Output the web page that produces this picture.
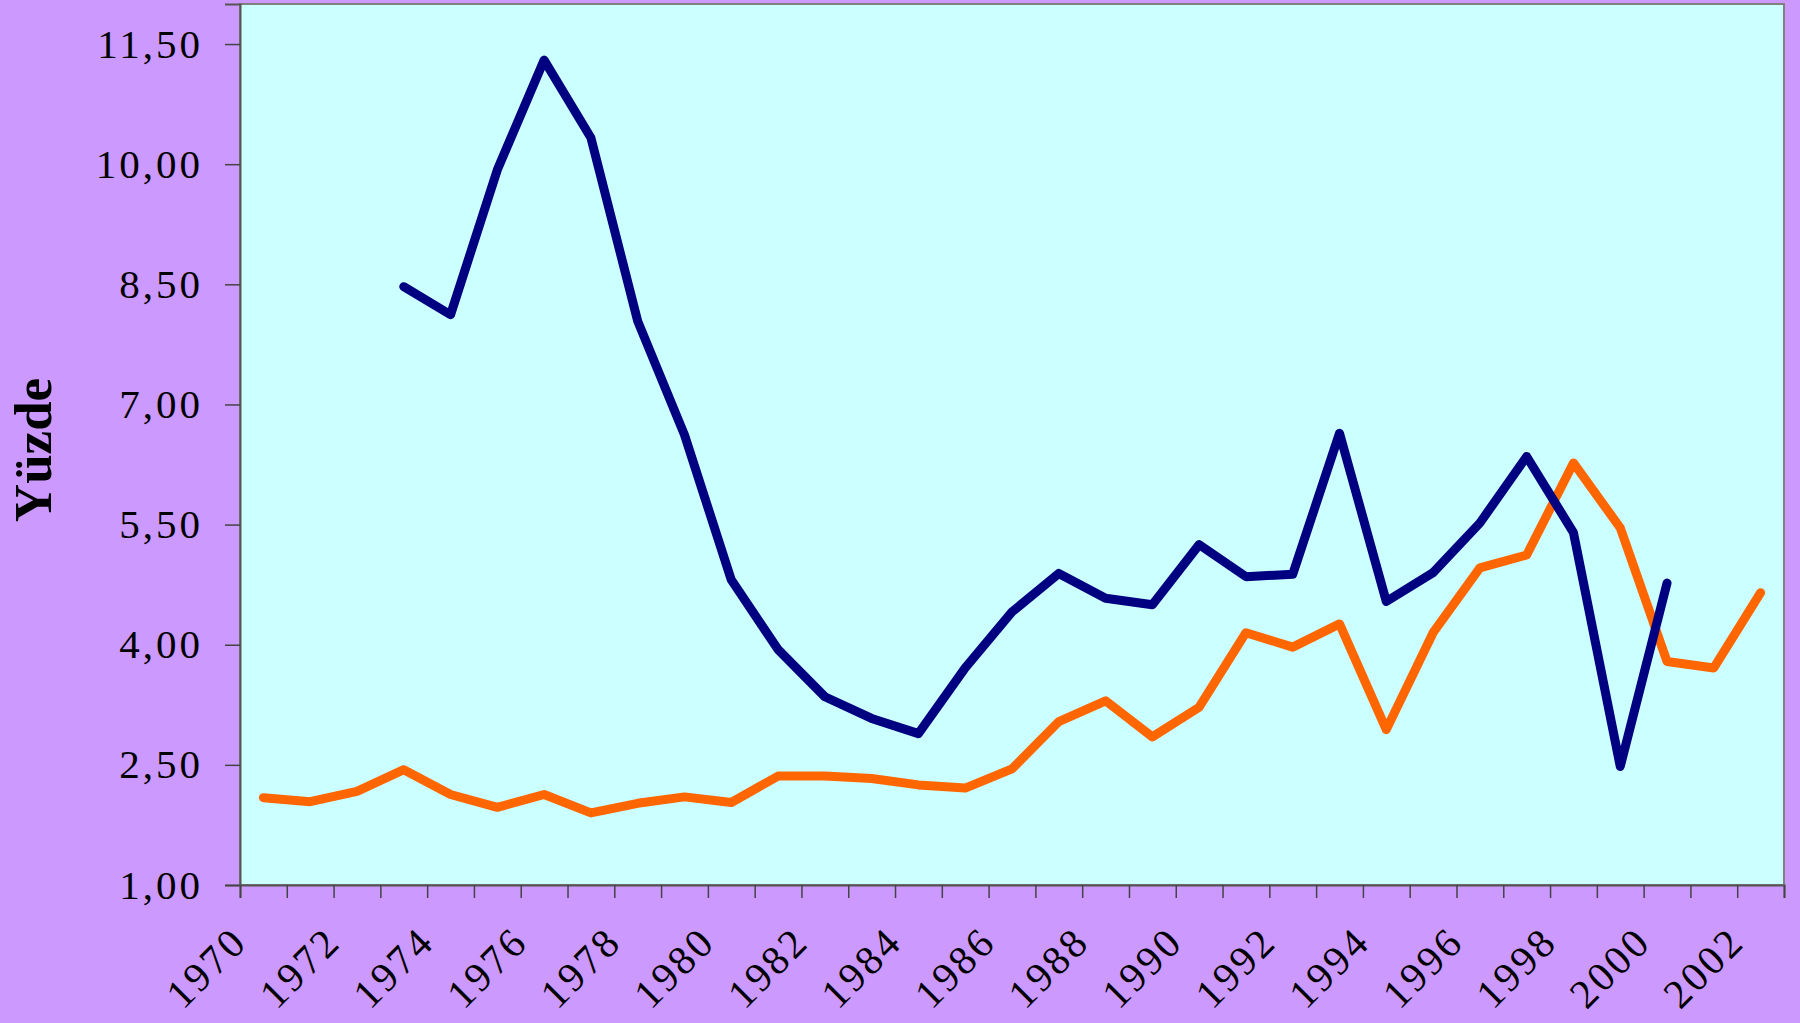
<!DOCTYPE html>
<html>
<head>
<meta charset="utf-8">
<script src="https://cdn.jsdelivr.net/npm/d3@7"></script>
<style>
	body { margin: 0; background: #cc99ff; }
	#chart { width: 1800px; height: 1023px; }
</style>
</head>
<body>
<div id="chart"></div>
<script>
// years on the category axis
const years = d3.range(1970, 2003);
const yearLabels = d3.range(1970, 2003, 2);
const yTicks = [1, 2.5, 4, 5.5, 7, 8.5, 10, 11.5];

// navy series, starts in 1973 and stops in 2000
const navyValues = [null, null, null, 8.47, 8.12, 9.93, 11.3, 10.33, 8.04, 6.62,
	4.81, 3.94, 3.35, 3.08, 2.89, 3.71, 4.41, 4.89, 4.58, 4.5,
	5.25, 4.85, 4.88, 6.64, 4.54, 4.9, 5.52, 6.35, 5.4, 2.48,
	4.77, null, null];

// orange series, full 1970 - 2002
const orangeValues = [2.09, 2.04, 2.17, 2.44, 2.13, 1.97, 2.13, 1.9, 2.02, 2.1,
	2.03, 2.36, 2.36, 2.33, 2.25, 2.21, 2.45, 3.04, 3.3, 2.85,
	3.22, 4.15, 3.97, 4.26, 2.94, 4.15, 4.96, 5.12, 6.27, 5.46,
	3.79, 3.71, 4.65];

const width = 1800;
const height = 1023;
const margin = { top: 4, right: 16, bottom: 138, left: 240 };
const serif = "'Liberation Serif', 'Times New Roman', serif";

const svg = d3
	.select("#chart")
	.append("svg")
	.attr("width", width)
	.attr("height", height);

// x is linear so the ticks can sit between the categories
const x = d3
	.scaleLinear()
	.domain([1970, 2003])
	.range([margin.left, width - margin.right]);

const y = d3
	.scaleLinear()
	.domain([1, 12])
	.range([height - margin.bottom, margin.top]);

// plot area
svg
	.append("rect")
	.attr("x", x(1970))
	.attr("y", y(12))
	.attr("width", x(2003) - x(1970))
	.attr("height", y(1) - y(12))
	.attr("fill", "#ccffff")
	.attr("stroke", "#808080")
	.attr("stroke-width", 2);

// y axis
const yAxis = svg
	.append("g")
	.attr("transform", `translate(${margin.left}, 0)`)
	.call(
		d3
			.axisLeft(y)
			.tickValues(yTicks)
			.tickSize(15)
			.tickPadding(22)
			.tickFormat((d) => d3.format(".2f")(d).replace(".", ","))
	);
yAxis.select(".domain").attr("stroke", "#555").attr("stroke-width", 2);
yAxis.selectAll(".tick line").attr("stroke", "#444").attr("stroke-width", 1.5);
yAxis
	.selectAll(".tick text")
	.attr("fill", "#000")
	.style("font-family", serif)
	.style("font-size", "41px")
	.style("letter-spacing", "3px");

// x axis, ticks on the category borders
const xAxis = svg
	.append("g")
	.attr("transform", `translate(0, ${y(1)})`)
	.call(
		d3
			.axisBottom(x)
			.tickValues(d3.range(1970, 2004))
			.tickSize(13)
			.tickFormat("")
	);
xAxis.select(".domain").attr("stroke", "#555").attr("stroke-width", 2);
xAxis.selectAll(".tick line").attr("stroke", "#444").attr("stroke-width", 1.5);

// x labels, every second year, turned 45 degrees
svg
	.append("g")
	.selectAll("text")
	.data(yearLabels)
	.join("text")
	.attr("transform", (d) => `translate(${x(d + 0.5) - 14}, 944) rotate(-45)`)
	.attr("text-anchor", "end")
	.style("font-family", serif)
	.style("font-size", "41px")
	.style("letter-spacing", "3px")
	.attr("fill", "#000")
	.text((d) => d);

// y label
svg
	.append("text")
	.attr("transform", `translate(51, 450) rotate(-90)`)
	.attr("text-anchor", "middle")
	.style("font-family", serif)
	.style("font-size", "53px")
	.style("font-weight", "bold")
	.attr("fill", "#000")
	.text("Yüzde");

const line = d3
	.line()
	.defined((d) => d[1] !== null)
	.x((d) => x(d[0] + 0.5))
	.y((d) => y(d[1]));

svg
	.append("path")
	.datum(years.map((yr, i) => [yr, orangeValues[i]]))
	.attr("d", line)
	.attr("fill", "none")
	.attr("stroke", "#ff6600")
	.attr("stroke-width", 9)
	.attr("stroke-linejoin", "round")
	.attr("stroke-linecap", "round");

svg
	.append("path")
	.datum(years.map((yr, i) => [yr, navyValues[i]]))
	.attr("d", line)
	.attr("fill", "none")
	.attr("stroke", "#000080")
	.attr("stroke-width", 9)
	.attr("stroke-linejoin", "round")
	.attr("stroke-linecap", "round");
</script>
</body>
</html>
